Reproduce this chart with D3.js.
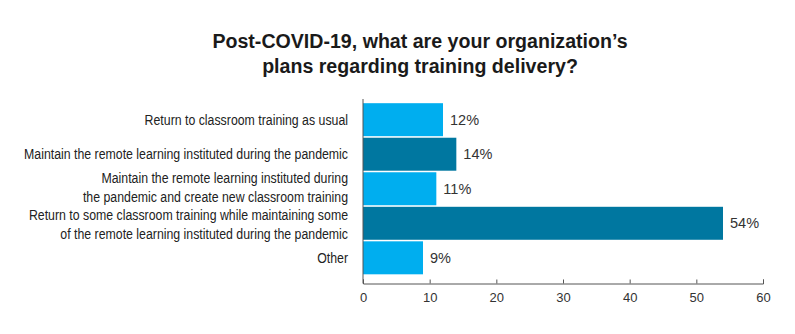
<!DOCTYPE html>
<html>
<head>
<meta charset="utf-8">
<script src="https://cdn.jsdelivr.net/npm/d3@7"></script>
<style>
  body { margin: 0; background: #fff; }
  svg { display: block; }
  .title { font-family: "Liberation Sans", Arial, sans-serif; font-weight: bold; font-size: 19.6px; fill: #1a1a1a; }
  .cat { font-family: "Liberation Sans", Arial, sans-serif; font-size: 15.5px; fill: #222; }
  .val { font-family: "Liberation Sans", Arial, sans-serif; font-size: 14.5px; fill: #333; }
  .axis text { font-family: "Liberation Sans", Arial, sans-serif; font-size: 13px; fill: #333; }
  .axis path, .axis line { stroke: #555; }
</style>
</head>
<body>
<script>
const categories = [
  ['Return to classroom training as usual'],
  ['Maintain the remote learning instituted during the pandemic'],
  ['Maintain the remote learning instituted during', 'the pandemic and create new classroom training'],
  ['Return to some classroom training while maintaining some', 'of the remote learning instituted during the pandemic'],
  ['Other']
];
const values = [12, 14, 11, 54, 9];
const barColors = ['#00aeef', '#0077a0', '#00aeef', '#0077a0', '#00aeef'];
const xTicks = [0, 10, 20, 30, 40, 50, 60];
const titleLines = ['Post-COVID-19, what are your organization\u2019s', 'plans regarding training delivery?'];

const width = 795, height = 334;
const plotLeft = 363, plotRight = 763, plotTop = 102.5, plotBottom = 275, axisY = 283.5;
const labelRight = 348, labelSquash = 0.795, lineGap = 18.5;

const svg = d3.select('body').append('svg')
  .attr('width', width)
  .attr('height', height);

svg.selectAll('.title')
  .data(titleLines)
  .enter().append('text')
  .attr('class', 'title')
  .attr('x', 420)
  .attr('y', (d, i) => 48 + i * 25)
  .attr('text-anchor', 'middle')
  .text(d => d);

const x = d3.scaleLinear().domain([0, 60]).range([plotLeft, plotRight]);
const y = d3.scaleBand()
  .domain(d3.range(values.length))
  .range([plotTop, plotBottom])
  .paddingInner(0.045)
  .paddingOuter(0.02);

// bars
svg.selectAll('.bar')
  .data(values)
  .enter().append('rect')
  .attr('class', 'bar')
  .attr('x', x(0))
  .attr('y', (d, i) => y(i))
  .attr('width', d => x(d) - x(0))
  .attr('height', y.bandwidth())
  .attr('fill', (d, i) => barColors[i]);

// value labels
svg.selectAll('.val')
  .data(values)
  .enter().append('text')
  .attr('class', 'val')
  .attr('x', d => x(d) + 7)
  .attr('y', (d, i) => y(i) + y.bandwidth() / 2)
  .attr('dy', '0.35em')
  .text(d => d + '%');

// first-line baseline for each label, centred on its bar
let firstBase = categories.map((d, i) => y(i) + y.bandwidth() / 2 + 5 - (d.length - 1) * lineGap / 2);

// nudge neighbouring labels apart so their lines don't collide
for (let i = 0; i < categories.length - 1; i++) {
  let lastLine = firstBase[i] + (categories[i].length - 1) * lineGap;
  let gap = firstBase[i + 1] - lastLine;
  if (gap < lineGap) {
    let push = (lineGap - gap) / 2;
    firstBase[i] -= push;
    firstBase[i + 1] += push;
  }
}

// category labels, squashed horizontally to mimic the condensed face
const cat = svg.selectAll('.cat')
  .data(categories)
  .enter().append('text')
  .attr('class', 'cat')
  .attr('text-anchor', 'end')
  .attr('transform', (d, i) => `translate(${labelRight},${firstBase[i]}) scale(${labelSquash},1)`);

cat.selectAll('tspan')
  .data(d => d)
  .enter().append('tspan')
  .attr('x', 0)
  .attr('y', (d, j) => j * lineGap)
  .text(d => d);

// x axis (ticks point up)
svg.append('g')
  .attr('class', 'axis')
  .attr('transform', `translate(0,${axisY})`)
  .call(d3.axisBottom(x).tickValues(xTicks).tickSizeInner(-4).tickSizeOuter(-4).tickPadding(7))
  .call(g => g.selectAll('text').attr('dy', '0.85em'));

// y axis line
svg.append('line')
  .attr('x1', x(0)).attr('x2', x(0))
  .attr('y1', 99).attr('y2', axisY)
  .attr('stroke', '#555');
</script>
</body>
</html>
